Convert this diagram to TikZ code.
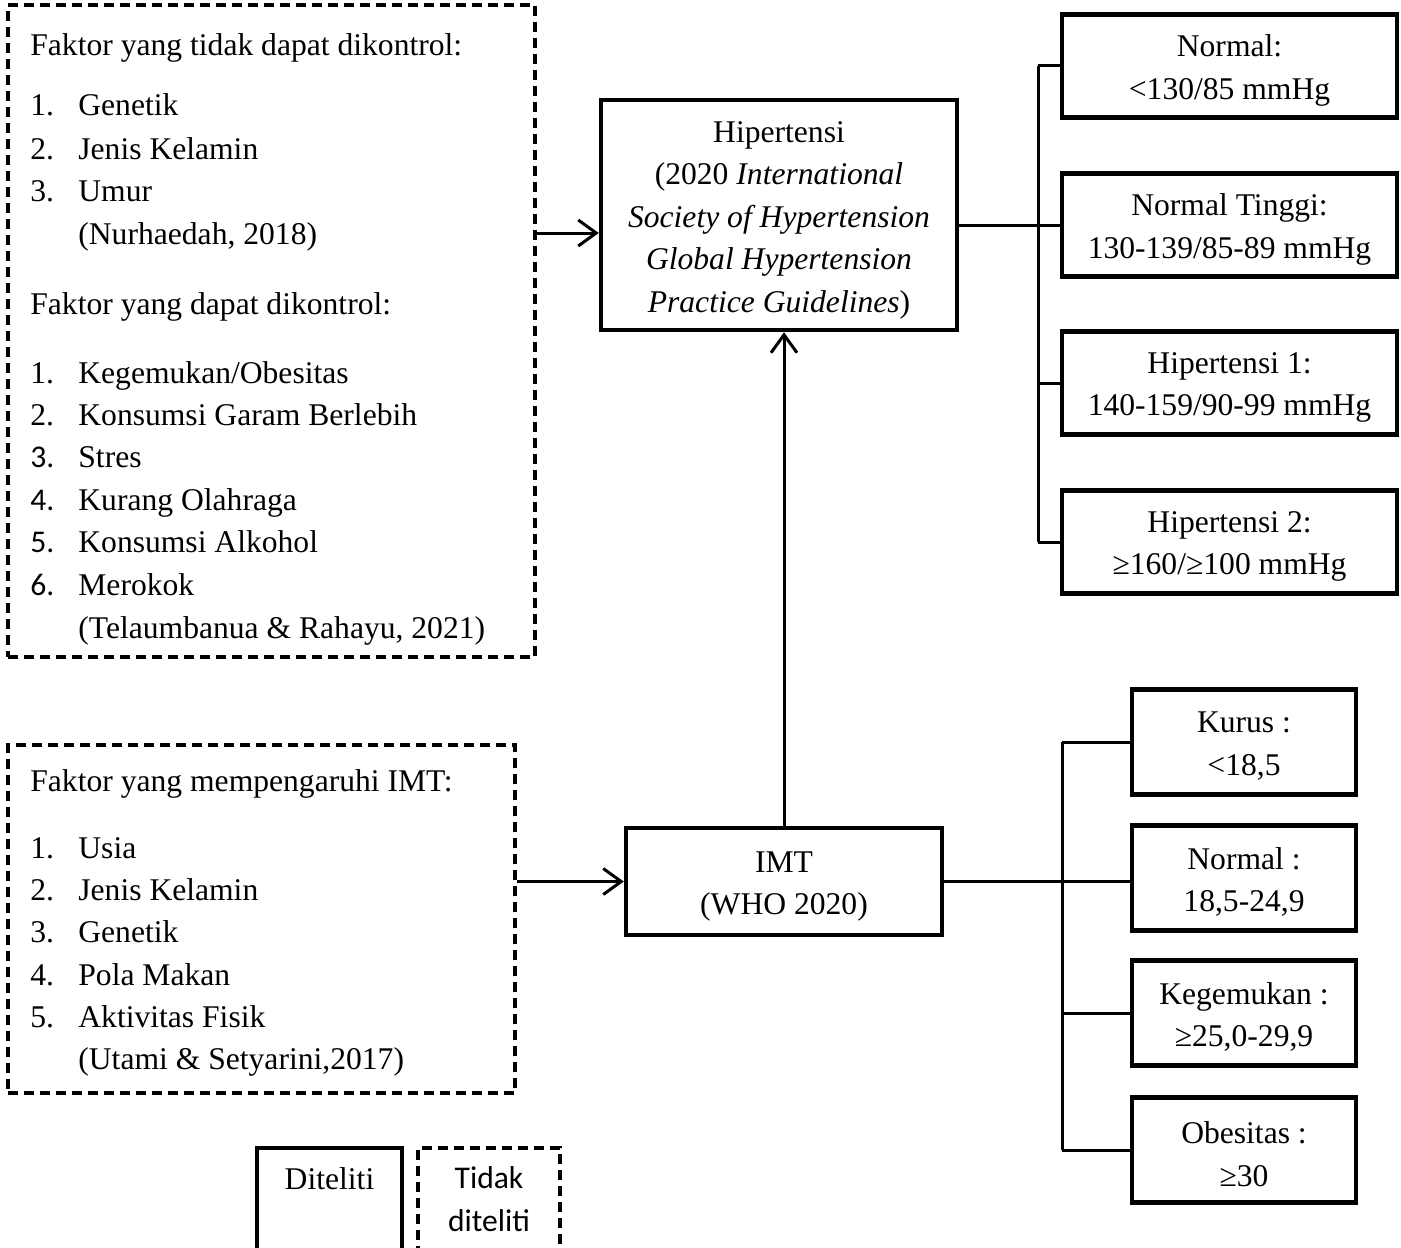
\documentclass[tikz,border=0pt]{standalone}
\usepackage{fontspec}
\setmainfont{Liberation Serif}
\newfontfamily\calibri{Carlito}
\usetikzlibrary{positioning,arrows.meta,calc}
\tikzstyle{every node}=[font=\fontsize{15.8}{21.3}\selectfont]
\tikzstyle{box}=[draw, rectangle, line width=2.2pt, inner sep=0pt]
\tikzstyle{boxtext}=[inner sep=0pt, align=center]
\tikzstyle{dashbox}=[draw, rectangle, line width=1.6pt, dash pattern=on 5pt off 3pt, inner sep=0pt]
\tikzstyle{entry}=[anchor=base west, inner sep=0pt]
\tikzstyle{link}=[line width=1.5pt]
\tikzstyle{arrow}=[link, -{Straight Barb[length=9pt,width=13pt]}]

\begin{document}
\begin{tikzpicture}[x=0.5pt, y=-0.5pt]
  \useasboundingbox (0,0) rectangle (1401,1247);

  % faktor hipertensi
  \node[dashbox, minimum width=263.5pt, minimum height=326pt] (faktorHT) at (271.5,331) {};
  \node[entry] (judulTK) at (30,56) {Faktor yang tidak dapat dikontrol:};
  \foreach \no/\isi/\yy [count=\i] in {1./Genetik/105, 2./Jenis Kelamin/148, 3./Umur/190}{
    \node[entry] (noTK\i) at (30,\yy+11) {\no};
    \node[entry] (tk\i) at (78,\yy+11) {\isi};
  }
  \node[entry] (refTK) at (78,244) {(Nurhaedah, 2018)};
  \node[entry] (judulDK) at (30,314) {Faktor yang dapat dikontrol:};
  \foreach \no/\isi/\yy [count=\i] in {1./{Kegemukan/Obesitas}/372, 2./Konsumsi Garam Berlebih/414,
      {\calibri 3.}/Stres/456, {\calibri 4.}/Kurang Olahraga/499,
      {\calibri 5.}/Konsumsi Alkohol/541, {\calibri 6.}/Merokok/584}{
    \node[entry] (noDK\i) at (30,\yy+11) {\no};
    \node[entry] (dk\i) at (78,\yy+11) {\isi};
  }
  \node[entry] (refDK) at (78,638) {(Telaumbanua \& Rahayu, 2021)};

  % faktor IMT
  \node[dashbox, minimum width=253.5pt, minimum height=174pt] (faktorIMT) at (261.5,919) {};
  \node[entry] (judulIMT) at (30,791) {Faktor yang mempengaruhi IMT:};
  \foreach \no/\isi/\yy [count=\i] in {1./Usia/847, 2./Jenis Kelamin/889, 3./Genetik/931,
      4./Pola Makan/974, 5./Aktivitas Fisik/1016}{
    \node[entry] (noIMT\i) at (30,\yy+11) {\no};
    \node[entry] (fi\i) at (78,\yy+11) {\isi};
  }
  \node[entry] (refIMT) at (78,1069) {(Utami \& Setyarini,2017)};

  % variabel utama
  \node[box, minimum width=178pt, minimum height=115pt] (hipertensi) at (779,215) {};
  \node[boxtext] (hipertensiTeks) at ([yshift=-2.6pt]hipertensi)
    {Hipertensi\\(2020 \textit{International}\\\textit{Society of Hypertension}\\
     \textit{Global Hypertension}\\\textit{Practice Guidelines})};
  \node[box, minimum width=158pt, minimum height=53.5pt] (imt) at (784,881.5) {};
  \node[boxtext] (imtTeks) at ([yshift=-2.5pt]imt) {IMT\\(WHO 2020)};

  % klasifikasi hipertensi
  \foreach \isi/\yy [count=\i] in {{Normal:\\<130/85 mmHg}/66, {Normal Tinggi:\\130-139/85-89 mmHg}/225,
      {Hipertensi 1:\\140-159/90-99 mmHg}/383, {Hipertensi 2:\\≥160/≥100 mmHg}/542}{
    \node[box, minimum width=167.5pt, minimum height=51.5pt] (ht\i) at (1229.5,\yy) {};
    \node[boxtext] (htTeks\i) at ([yshift=-2.2pt]ht\i) {\isi};
  }
  % klasifikasi IMT
  \foreach \isi/\yy [count=\i] in {{Kurus :\\<18,5}/742, {Normal :\\18,5-24,9}/878,
      {Kegemukan :\\≥25,0-29,9}/1013, {Obesitas :\\≥30}/1150}{
    \node[box, minimum width=112pt, minimum height=52.5pt] (bm\i) at (1244,\yy) {};
    \node[boxtext] (bmTeks\i) at ([yshift=-2pt]bm\i) {\isi};
  }

  % keterangan
  \node[box, minimum width=72.5pt, minimum height=65pt] (lgDiteliti) at (329.5,1213) {};
  \node[inner sep=0pt, below=10.5pt of lgDiteliti.north] (lgTeks1) {Diteliti};
  \node[dashbox, minimum width=71pt, minimum height=65pt] (lgTidak) at (489,1213) {};
  \node[boxtext, below=10pt of lgTidak.north] (lgTeks2) {\calibri Tidak\\\calibri diteliti};

  % garis
  \draw[arrow] (faktorHT.east |- 0,233) -- (hipertensi.west |- 0,233);
  \draw[arrow] (faktorIMT.east |- imt) -- (imt.west);
  \draw[arrow] (imt.north) -- (imt.north |- hipertensi.south);

  \coordinate (spineHT) at (1038,0);
  \draw[link] (hipertensi.east |- ht2) -- (ht2.west);
  \draw[link] (spineHT |- ht1) -- (spineHT |- ht4);
  \foreach \k in {1,3,4} \draw[link] (spineHT |- ht\k) -- (ht\k.west);

  \coordinate (spineIMT) at (1062,0);
  \draw[link] (imt.east) -- (imt.east -| bm2.west);
  \draw[link] (spineIMT |- bm1) -- (spineIMT |- bm4);
  \foreach \k in {1,3,4} \draw[link] (spineIMT |- bm\k) -- (bm\k.west);
\end{tikzpicture}
\end{document}
